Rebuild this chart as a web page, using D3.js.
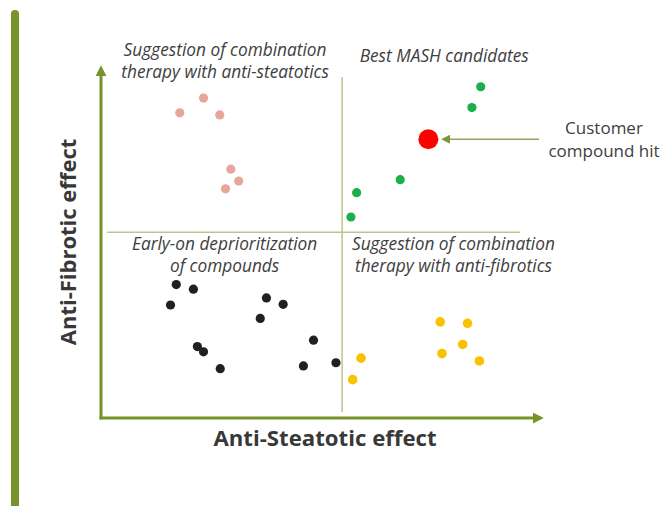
<!DOCTYPE html>
<html>
<head>
<meta charset="utf-8">
<script src="https://cdn.jsdelivr.net/npm/d3@7"></script>
<style>
  html, body { margin: 0; padding: 0; background: #fff; }
  svg { display: block; font-family: "Open Sans", sans-serif; }
</style>
</head>
<body>
<div id="chart"></div>
<script>
// quadrant chart: anti-steatotic (x) vs anti-fibrotic (y), values 0-100
const pinkX = [17.9, 23.3, 27.0, 29.5, 31.3, 28.3];
const pinkY = [86.7, 90.9, 86.1, 70.7, 67.3, 65.1];

const greenX = [86.3, 84.3, 68.0, 58.1, 56.8];
const greenY = [94.1, 88.2, 67.7, 64.0, 57.1];

const blackX = [17.1, 21.0, 15.8, 37.6, 41.4, 36.2, 21.9, 23.3, 27.1, 48.3, 46.0, 53.4];
const blackY = [37.9, 36.6, 32.1, 34.1, 32.3, 28.3, 20.3, 18.8, 14.0, 22.1, 14.8, 15.7];

const yellowX = [59.1, 57.2, 77.1, 83.3, 82.2, 77.5, 86.0];
const yellowY = [17.0, 10.9, 27.3, 26.9, 20.9, 18.3, 16.2];

const hitX = [74.4];
const hitY = [79.2];

const xSplit = 54.8;
const ySplit = 52.8;

const quadrantLabels = [
    { lines: ['Suggestion of combination', 'therapy with anti-steatotics'], x: 28.2, y: 102.8 },
    { lines: ['Best MASH candidates'], x: 78.0, y: 101.1 },
    { lines: ['Early-on deprioritization', 'of compounds'], x: 28.1, y: 47.7 },
    { lines: ['Suggestion of combination', 'therapy with anti-fibrotics'], x: 80.1, y: 47.7 },
];
const hitLabel = ['Customer', 'compound hit'];
const xTitle = 'Anti-Steatotic effect';
const yTitle = 'Anti-Fibrotic effect';

const width = 661;
const height = 506;
const axisColor = '#76942a';
const splitColor = '#bac58f';
const textColor = '#404040';

const svg = d3.select('#chart')
    .append('svg')
    .attr('width', width)
    .attr('height', height);

const x = d3.scaleLinear().domain([0, 100]).range([101, 541]);
const y = d3.scaleLinear().domain([0, 100]).range([418, 66]);

// arrow heads
const defs = svg.append('defs');
let addMarker = (id, color, size) => {
    defs.append('marker')
        .attr('id', id)
        .attr('viewBox', '0 0 10 10')
        .attr('refX', 2)
        .attr('refY', 5)
        .attr('markerUnits', 'userSpaceOnUse')
        .attr('markerWidth', size)
        .attr('markerHeight', size)
        .attr('orient', 'auto')
        .append('path')
        .attr('d', 'M0,0 L10,5 L0,10 Z')
        .attr('fill', color);
};
addMarker('axisHead', axisColor, 11);
addMarker('hitHead', '#7f9432', 9);

// left accent bar
svg.append('line')
    .attr('x1', 15).attr('x2', 15)
    .attr('y1', 14).attr('y2', height + 10)
    .attr('stroke', axisColor)
    .attr('stroke-width', 8)
    .attr('stroke-linecap', 'round');

// quadrant dividers
svg.append('line')
    .attr('x1', x(xSplit)).attr('x2', x(xSplit))
    .attr('y1', y(96.9)).attr('y2', y(1.7))
    .attr('stroke', splitColor)
    .attr('stroke-width', 1.5);

svg.append('line')
    .attr('x1', x(1.4)).attr('x2', x(95.2))
    .attr('y1', y(ySplit)).attr('y2', y(ySplit))
    .attr('stroke', splitColor)
    .attr('stroke-width', 1.5);

// axes
svg.append('line')
    .attr('x1', x(0)).attr('x2', x(0))
    .attr('y1', y(0) + 1.5).attr('y2', y(100) + 8)
    .attr('stroke', axisColor)
    .attr('stroke-width', 3)
    .attr('marker-end', 'url(#axisHead)');

svg.append('line')
    .attr('x1', x(0) - 1.5).attr('x2', x(100) - 6)
    .attr('y1', y(0)).attr('y2', y(0))
    .attr('stroke', axisColor)
    .attr('stroke-width', 3)
    .attr('marker-end', 'url(#axisHead)');

// points
let drawDots = (xs, ys, color, r) => {
    svg.append('g')
        .attr('fill', color)
        .selectAll('circle')
        .data(xs)
        .join('circle')
        .attr('cx', d => x(d))
        .attr('cy', (d, i) => y(ys[i]))
        .attr('r', r);
};
drawDots(pinkX, pinkY, '#e8a69b', 4.6);
drawDots(greenX, greenY, '#1bb04c', 4.6);
drawDots(blackX, blackY, '#231f20', 4.6);
drawDots(yellowX, yellowY, '#f8c200', 4.8);
drawDots(hitX, hitY, '#ff0000', 10);

// customer hit pointer
svg.append('line')
    .attr('x1', 539).attr('x2', x(hitX[0]) + 20)
    .attr('y1', y(hitY[0])).attr('y2', y(hitY[0]))
    .attr('stroke', '#93a25a')
    .attr('stroke-width', 1.5)
    .attr('marker-end', 'url(#hitHead)');

svg.append('g')
    .selectAll('text')
    .data(hitLabel)
    .join('text')
    .attr('x', 604)
    .attr('y', (d, i) => 134 + i * 23)
    .attr('text-anchor', 'middle')
    .attr('font-size', 17)
    .attr('fill', textColor)
    .text(d => d);

// quadrant labels
quadrantLabels.forEach(q => {
    svg.append('g')
        .selectAll('text')
        .data(q.lines)
        .join('text')
        .attr('x', x(q.x))
        .attr('y', (d, i) => y(q.y) + i * 22)
        .attr('text-anchor', 'middle')
        .attr('font-size', 17.3)
        .attr('font-style', 'italic')
        .attr('fill', textColor)
        .text(d => d);
});

// axis titles
svg.append('text')
    .attr('x', 325)
    .attr('y', 446)
    .attr('text-anchor', 'middle')
    .attr('font-size', 22.2)
    .attr('font-weight', 'bold')
    .attr('fill', '#383838')
    .text(xTitle);

svg.append('text')
    .attr('transform', 'translate(76,242) rotate(-90)')
    .attr('text-anchor', 'middle')
    .attr('font-size', 22)
    .attr('font-weight', 'bold')
    .attr('fill', '#383838')
    .text(yTitle);
</script>
</body>
</html>
